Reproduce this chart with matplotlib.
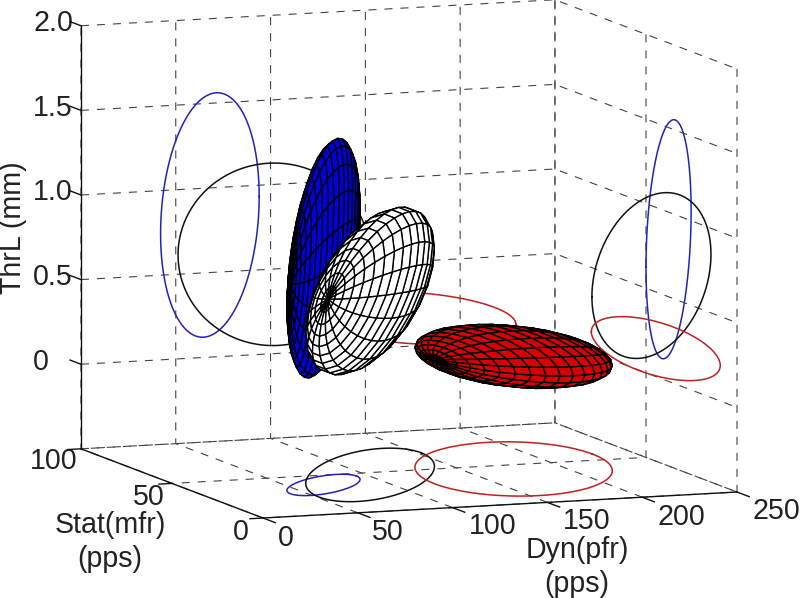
import numpy as np
import matplotlib
matplotlib.use("Agg")
import matplotlib.pyplot as plt
from matplotlib.transforms import Affine2D
from mpl_toolkits.mplot3d import proj3d

plt.rcParams['font.family'] = ['Liberation Sans', 'DejaVu Sans']

# --- data (Dyn, Stat, ThrL) ---
names = ['blue', 'white', 'red']
center_dyn = [68.0, 101.6, 175.0]
center_stat = [37.6, 47.0, 44.6]
center_thr = [0.84, 0.587, 0.165]
spread_dyn = [26.0, 50.4, 54.4]
spread_stat = [12.4, 32.7, 35.4]
spread_thr = [0.72, 0.54, 0.167]
corr_dyn_stat = [0.72, 0.75, 0.38]
corr_dyn_thr = [0.13, -0.05, -0.42]
corr_stat_thr = [-0.30, -0.48, -0.27]
mesh_tilt = [0.0, 0.2, 0.0]
surface_colors = ['#0000e0', '#ffffff', '#d80000']
outline_colors = ['#2222bb', '#111111', '#c02020']
surface_order = [3, 5, 4]

x_ticks = [0, 50, 100, 150, 200, 250]
y_ticks = [0, 50, 100]
z_ticks = [-0.5, 0, 0.5, 1.0, 1.5, 2.0]
z_labels = ['', '0', '0.5', '1.0', '1.5', '2.0']
x_lim = (0, 250)
y_lim = (0, 100)
z_lim = (-0.5, 2.0)

TEXT = '#222222'
FS = 20.6

W, H = 800, 598
fig = plt.figure(figsize=(W / 100, H / 100), dpi=100, facecolor='white')
S = 1000
ax = fig.add_axes([(W - S) / 2 / W, (H - S) / 2 / H, S / W, S / H], projection='3d')
ax.patch.set_alpha(0)
ax.set_proj_type('ortho')
ax.view_init(elev=8.3, azim=-110.8)
aspect = (507, 512.6, 427.5)
ax.set_box_aspect(aspect, zoom=1.0)
ax.computed_zorder = False
ax.set_xlim(*x_lim, view_margin=0)
ax.set_ylim(*y_lim, view_margin=0)
ax.set_zlim(*z_lim, view_margin=0)

ax.set_xticks(x_ticks)
ax.set_yticks(y_ticks)
ax.set_zticks(z_ticks)
ax.set_zticklabels(z_labels)
ax.tick_params(axis='both', labelsize=FS, labelcolor=TEXT, pad=4)
ax.tick_params(axis='x', pad=6)
ax.tick_params(axis='y', pad=2)
ax.tick_params(axis='z', pad=8)
ax.grid(True)
for a in (ax.xaxis, ax.yaxis, ax.zaxis):
    a.set_pane_color((1, 1, 1, 0))
    a.pane.set_edgecolor((1, 1, 1, 0))
    a.line.set_color('#111111')
    a.line.set_linewidth(1.0)
    a._axinfo['grid'].update(color='#444444', linewidth=0.8, linestyle=(0, (7.2, 7.2)))
    a._axinfo['tick'].update(inward_factor=0.0, outward_factor=0.0)

# nudges (pixels, x right / y up) of the tick labels from where the axis puts them
nudge_x = [(16, 12), (23, 13), (33, 14), (32, 14), (32, 13), (33, 13)]
nudge_y = [(-10, 12), (-11, 12), (-15, 14)]
nudge_z = [(0, 0), (-12, 14), (0, 15), (0, 15), (0, 15), (0, 15)]


def nudge_labels(axis, nudges):
    original = axis.get_major_ticks

    def patched(numticks=None):
        ticks = original(numticks)
        for tick, (ox, oy) in zip(ticks, nudges):
            tick.label1.set_transform(ax.transData + Affine2D().translate(ox, oy))
        return ticks

    axis.get_major_ticks = patched


nudge_labels(ax.xaxis, nudge_x)
nudge_labels(ax.yaxis, nudge_y)
nudge_labels(ax.zaxis, nudge_z)

# outward tick marks
for v in x_ticks:
    ax.plot([v, v], [y_lim[0], y_lim[0] - 6.7], [z_lim[0], z_lim[0]], color='#111111', lw=1.0, zorder=1)
for v in y_ticks:
    ax.plot([x_lim[0], x_lim[0] - 6.9], [v, v], [z_lim[0], z_lim[0]], color='#111111', lw=1.0, zorder=1)
for v in z_ticks[1:]:
    ax.plot([x_lim[0], x_lim[0]], [y_lim[1], y_lim[1] + 6.0], [v, v], color='#111111', lw=1.0, zorder=1)

t_ring = np.linspace(0, 2 * np.pi, 200)
theta = np.linspace(0, np.pi, 21)
phi = np.linspace(0, 2 * np.pi, 21)


def marginal(ca, cb, sa, sb, rho):
    return (ca + sa * np.cos(t_ring),
            cb + sb * (rho * np.cos(t_ring) + np.sqrt(1 - rho ** 2) * np.sin(t_ring)))


for i in range(len(names)):
    cx, cy, cz = center_dyn[i], center_stat[i], center_thr[i]
    sx, sy, sz = spread_dyn[i], spread_stat[i], spread_thr[i]
    rxy, rxz, ryz = corr_dyn_stat[i], corr_dyn_thr[i], corr_stat_thr[i]
    sd = np.array([sx, sy, sz])
    R = np.array([[1, rxy, rxz], [rxy, 1, ryz], [rxz, ryz, 1]])
    L = np.linalg.cholesky(np.outer(sd, sd) * R)
    T, P = np.meshgrid(theta, phi)
    u0, u1, u2 = np.cos(T), np.sin(T) * np.cos(P), np.sin(T) * np.sin(P)
    c, s = np.cos(mesh_tilt[i]), np.sin(mesh_tilt[i])
    u = np.stack([c * u0 - s * u1, s * u0 + c * u1, u2])
    pts = np.einsum('ij,jkl->ikl', L, u)
    ax.plot_surface(pts[0] + cx, pts[1] + cy, pts[2] + cz, rstride=1, cstride=1,
                    color=surface_colors[i], edgecolor='#000000', linewidth=1.0,
                    shade=False, antialiased=True, zorder=surface_order[i])
    # footprints on the floor and the two back walls
    a, b = marginal(cx, cy, sx, sy, rxy)
    ax.plot(a, b, np.full_like(a, z_lim[0]), color=outline_colors[i], lw=1.1, zorder=2)
    a, b = marginal(cx, cz, sx, sz, rxz)
    ax.plot(a, np.full_like(a, y_lim[1]), b, color=outline_colors[i], lw=1.1, zorder=2)
    a, b = marginal(cy, cz, sy, sz, ryz)
    ax.plot(np.full_like(a, x_lim[1]), a, b, color=outline_colors[i], lw=1.1, zorder=2)

ax.set_xlim(*x_lim, view_margin=0)
ax.set_ylim(*y_lim, view_margin=0)
ax.set_zlim(*z_lim, view_margin=0)


def px(x, y, z):
    fig.canvas.draw()
    u, v, _ = proj3d.proj_transform(x, y, z, ax.get_proj())
    return ax.transData.transform((u, v))


# fit the box to the reference: front corner (263,518), right corner (737,492)
p0, p1 = px(0, 0, -0.5), px(250, 0, -0.5)
ax.set_box_aspect(aspect, zoom=np.hypot(474, 26) / np.hypot(*(p1 - p0)))
p0 = px(0, 0, -0.5)
dx, dy = 263 - p0[0], (H - 518) - p0[1]
pos = ax.get_position(original=True)
ax.set_position([pos.x0 + dx / W, pos.y0 + dy / H, pos.width, pos.height])

fig.text(577 / W, 1 - 567 / H, 'Dyn(pfr)\n(pps)', ha='center', va='center', fontsize=FS,
         color=TEXT, linespacing=1.3)
fig.text(110 / W, 1 - 542 / H, 'Stat(mfr)\n(pps)', ha='center', va='center', fontsize=FS,
         color=TEXT, linespacing=1.3)
fig.text(13 / W, 1 - 228 / H, 'ThrL (mm)', ha='center', va='center', rotation=90, fontsize=FS,
         color=TEXT)

fig.savefig('out.png', dpi=100)
